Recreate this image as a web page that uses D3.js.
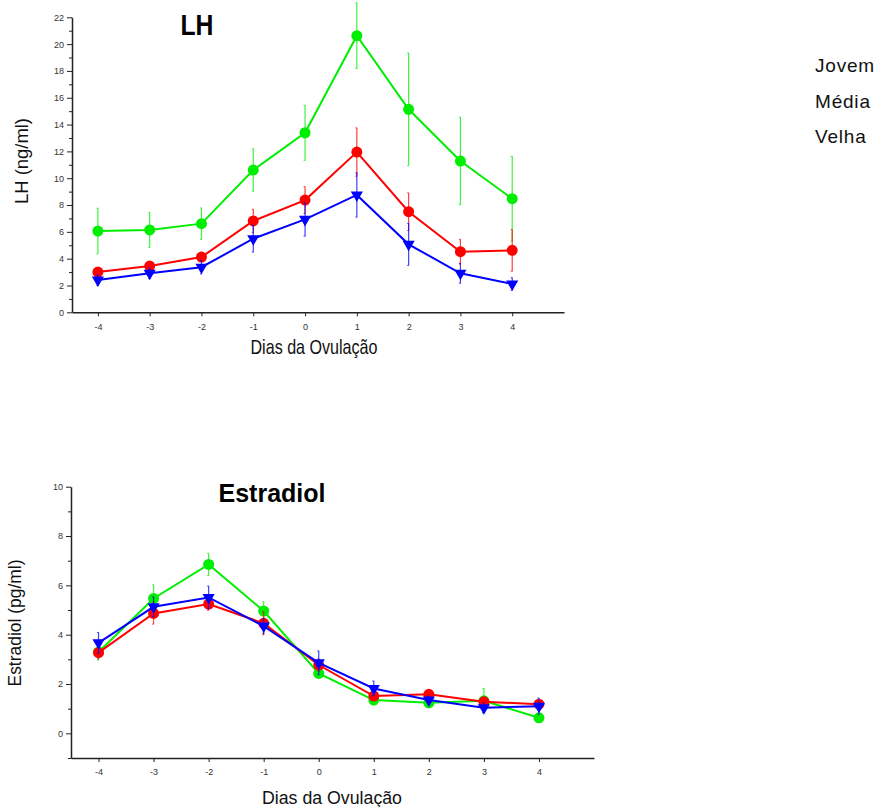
<!DOCTYPE html>
<html>
<head>
<meta charset="utf-8">
<script src="https://cdn.jsdelivr.net/npm/d3@7"></script>
<style>
  body { margin: 0; background: #fff; }
  svg { display: block; font-family: "Liberation Sans", Arial, sans-serif; }
</style>
</head>
<body>
<svg id="chart" width="886" height="807"></svg>
<script>
// ------ DATA ------
const days = [-4, -3, -2, -1, 0, 1, 2, 3, 4]
const groups = ["Velha", "Média", "Jovem"]
const legend_labels = ["Jovem", "Média", "Velha"]

// LH (ng/ml) mean and error
const lh_velha = [6.06, 6.14, 6.61, 10.61, 13.39, 20.63, 15.14, 11.28, 8.47]
const lh_velha_err = [1.7, 1.3, 1.17, 1.58, 2.05, 2.45, 4.2, 3.26, 3.16]
const lh_media = [3.0, 3.45, 4.12, 6.81, 8.37, 11.95, 7.5, 4.52, 4.62]
const lh_media_err = [0.3, 0.3, 0.35, 0.87, 1.0, 1.8, 1.4, 0.92, 1.55]
const lh_jovem = [2.41, 2.91, 3.36, 5.49, 6.93, 8.75, 5.07, 2.91, 2.11]
const lh_jovem_err = [0.4, 0.4, 0.5, 1.0, 1.25, 1.65, 1.57, 0.74, 0.47]

// Estradiol (pg/ml) mean and error
const e2_velha = [3.3, 5.47, 6.85, 4.96, 2.43, 1.35, 1.24, 1.32, 0.63]
const e2_velha_err = [0.33, 0.55, 0.45, 0.37, 0.2, 0.15, 0.15, 0.5, 0.15]
const e2_media = [3.27, 4.86, 5.24, 4.46, 2.77, 1.51, 1.58, 1.28, 1.18]
const e2_media_err = [0.25, 0.43, 0.25, 0.47, 0.25, 0.15, 0.15, 0.15, 0.15]
const e2_jovem = [3.67, 5.13, 5.51, 4.35, 2.86, 1.82, 1.35, 1.04, 1.1]
const e2_jovem_err = [0.42, 0.4, 0.46, 0.3, 0.48, 0.3, 0.15, 0.2, 0.33]

const colors = {"Velha": "#00ee00", "Média": "#ff0000", "Jovem": "#0000ff"}
const shapes = {"Velha": "circle", "Média": "circle", "Jovem": "triangle"}

const svg = d3.select("#chart")

function build(means, errs) {
  return groups.map(function(g, i) {
    return {group: g, values: days.map(function(d, j) {
      return {x: d, y: means[i][j], e: errs[i][j]}})}
  })
}

function draw_panel(opt) {
  const x = d3.scaleLinear().domain([-4.5, 5]).range(opt.xr)
  const y = d3.scaleLinear().domain(opt.yd).range(opt.yr)
  const g = svg.append("g")

  // axes
  const minor = d3.range(opt.yd[0], opt.yd[1] + 0.1, 1)
  const ya = g.append("g").attr("transform", "translate(" + opt.xr[0] + ",0)")
    .call(d3.axisLeft(y).tickValues(minor).tickSize(0).tickFormat(""))
  ya.selectAll(".tick line").attr("x2", function(d) { return d % 2 === 0 ? -5 : -3 })
  ya.select(".domain").attr("stroke", "#222").attr("stroke-width", 1.5)
  ya.selectAll(".tick line").attr("stroke", "#222")
  g.append("g").attr("transform", "translate(" + opt.xr[0] + ",0)")
    .call(d3.axisLeft(y).tickValues(minor.filter(function(d) { return d % 2 === 0 }))
      .tickSize(0).tickPadding(8).tickFormat(function(d) { return String(d) }))
    .call(function(s) { s.select(".domain").remove() })
    .selectAll("text").attr("font-size", 9).attr("fill", "#333")

  const xa = g.append("g").attr("transform", "translate(0," + opt.yr[0] + ")")
    .call(d3.axisBottom(x).tickValues(days).tickSize(4).tickPadding(7).tickSizeOuter(0)
      .tickFormat(function(d) { return String(d) }))
  xa.select(".domain").attr("stroke", "#222").attr("stroke-width", 1.5)
  xa.selectAll(".tick line").attr("stroke", "#222")
  xa.selectAll("text").attr("font-size", 9).attr("fill", "#333")

  const data = build(opt.means, opt.errs)
  const line = d3.line().x(function(d) { return x(d.x) }).y(function(d) { return y(d.y) })

  data.forEach(function(s) {
    const c = colors[s.group]
    const sg = g.append("g")
    // error bars
    const eb = sg.selectAll(".eb").data(s.values).join("g").attr("opacity", 0.75)
    eb.append("line")
      .attr("x1", function(d) { return x(d.x) }).attr("x2", function(d) { return x(d.x) })
      .attr("y1", function(d) { return y(d.y - d.e) }).attr("y2", function(d) { return y(d.y + d.e) })
      .attr("stroke", c).attr("stroke-width", 1.2)
    eb.append("line")
      .attr("x1", function(d) { return x(d.x) - 1.5 }).attr("x2", function(d) { return x(d.x) + 0.5 })
      .attr("y1", function(d) { return y(d.y + d.e) }).attr("y2", function(d) { return y(d.y + d.e) })
      .attr("stroke", c).attr("stroke-width", 1)
    eb.append("line")
      .attr("x1", function(d) { return x(d.x) - 1.5 }).attr("x2", function(d) { return x(d.x) + 0.5 })
      .attr("y1", function(d) { return y(d.y - d.e) }).attr("y2", function(d) { return y(d.y - d.e) })
      .attr("stroke", c).attr("stroke-width", 1)
    sg.append("path").datum(s.values).attr("d", line)
      .attr("fill", "none").attr("stroke", c).attr("stroke-width", 2)
    if (shapes[s.group] === "circle") {
      sg.selectAll("circle").data(s.values).join("circle")
        .attr("cx", function(d) { return x(d.x) }).attr("cy", function(d) { return y(d.y) })
        .attr("r", 5.5).attr("fill", c)
    } else {
      const tri = d3.symbol().type(d3.symbolTriangle).size(64)
      sg.selectAll(".tri").data(s.values).join("path")
        .attr("d", tri)
        .attr("transform", function(d) { return "translate(" + x(d.x) + "," + y(d.y) + ") rotate(180)" })
        .attr("fill", c)
    }
  })

  // labels
  g.append("text").attr("x", opt.title_x).attr("y", opt.title_y)
    .attr("text-anchor", "middle").attr("font-weight", "bold")
    .attr("font-size", opt.title_size)
    .attr("textLength", opt.title_len).attr("lengthAdjust", "spacingAndGlyphs")
    .text(opt.title)
  g.append("text").attr("x", opt.xlab_x).attr("y", opt.xlab_y)
    .attr("text-anchor", "middle").attr("font-size", opt.xlab_size)
    .attr("textLength", opt.xlab_len).attr("lengthAdjust", "spacingAndGlyphs")
    .attr("fill", "#111")
    .text("Dias da Ovulação")
  g.append("text")
    .attr("transform", "translate(" + opt.ylab_x + "," + opt.ylab_y + ") rotate(-90)")
    .attr("text-anchor", "middle").attr("font-size", 18).attr("fill", "#111")
    .attr("textLength", opt.ylab_len).attr("lengthAdjust", "spacingAndGlyphs")
    .text(opt.ylab)
}

// ------ LH ------
draw_panel({
  xr: [72, 564], yd: [0, 22], yr: [312.3, 17.3],
  means: [lh_velha, lh_media, lh_jovem], errs: [lh_velha_err, lh_media_err, lh_jovem_err],
  title: "LH", title_x: 197, title_y: 35, title_size: 30, title_len: 33,
  xlab_x: 314, xlab_y: 354, xlab_size: 21, xlab_len: 127,
  ylab: "LH (ng/ml)", ylab_x: 28, ylab_y: 161, ylab_len: 86
})

// ------ ESTRADIOL ------
draw_panel({
  xr: [71, 594], yd: [-1, 10], yr: [758, 486.7],
  means: [e2_velha, e2_media, e2_jovem], errs: [e2_velha_err, e2_media_err, e2_jovem_err],
  title: "Estradiol", title_x: 272, title_y: 502, title_size: 25, title_len: 107,
  xlab_x: 332, xlab_y: 804, xlab_size: 17.5, xlab_len: 140,
  ylab: "Estradiol (pg/ml)", ylab_x: 21, ylab_y: 623, ylab_len: 127
})

// ------ LEGEND (text only) ------
svg.append("g").selectAll("text").data(legend_labels).join("text")
  .attr("x", 815).attr("y", function(d, i) { return 72 + i * 35.5 })
  .attr("font-size", 19).attr("letter-spacing", 0.8).attr("fill", "#111")
  .text(function(d) { return d })
</script>
</body>
</html>
